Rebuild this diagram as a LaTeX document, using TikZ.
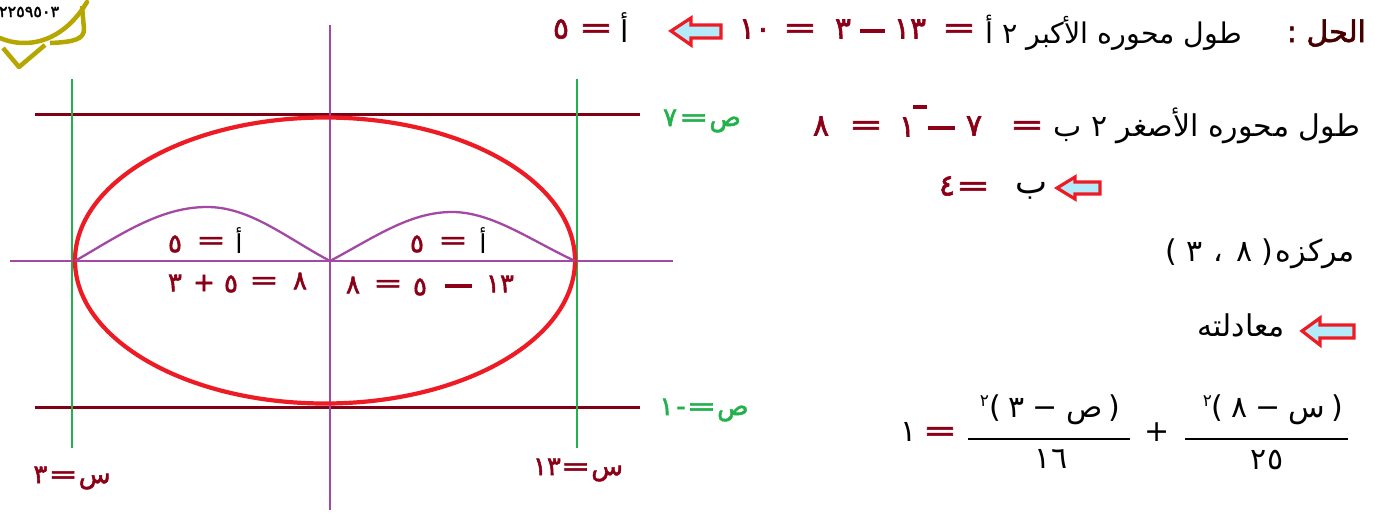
\documentclass[tikz,border=0pt]{standalone}
\usepackage{fontspec}
\newfontfamily\ar[Script=Arabic]{DejaVu Sans}
\newfontfamily\arb[Script=Arabic,FakeBold=2]{DejaVu Sans}
\newfontfamily\dv{DejaVu Sans}
\newfontfamily\dvb[FakeBold=2]{DejaVu Sans}
\TeXXeTstate=1
\newcommand\EQ{\scalebox{1.35}[1]{\dvb=}}
\definecolor{dred}{RGB}{139,0,22}
\definecolor{lred}{RGB}{128,0,20}
\definecolor{grn}{RGB}{34,177,76}
\definecolor{ered}{RGB}{237,28,36}
\definecolor{pur}{RGB}{163,73,164}
\definecolor{cyanf}{RGB}{180,235,250}
\definecolor{oliv}{RGB}{181,166,0}
\definecolor{hd}{RGB}{70,0,0}
\tikzset{
  hline/.style={lred, line width=3pt},
  vgreen/.style={grn, line width=2.8pt},
  axis/.style={pur, line width=2.3pt},
  bump/.style={pur, line width=2.3pt},
  blockarrow/.style={draw=ered, fill=cyanf, line width=3.2pt, line join=miter},
  txt/.style={font=\ar\fontsize{30}{34}\selectfont, text=black},
  rd/.style={font=\arb\fontsize{30}{34}\selectfont, text=dred},
  lab/.style={font=\arb\fontsize{26}{30}\selectfont, text=dred},
  glab/.style={font=\arb\fontsize{26}{30}\selectfont, text=grn},
  fracbar/.style={black, line width=2.2pt},
}
\begin{document}
\begin{tikzpicture}[x=1pt,y=-1pt, every node/.style={inner sep=0pt, outer sep=0pt}]
\useasboundingbox (0,0) rectangle (1375,517);
% logo
\draw[oliv, line width=4.5pt, line cap=round, line join=round] (0,38) .. controls (25,49) and (62,44) .. (87,2);
\draw[oliv, line width=4.5pt, line join=round] (3,48) -- (19,67) -- (45,45);
\draw[oliv, line width=4.5pt, line join=round] (82,6) -- (84,29) .. controls (84,39) and (75,42) .. (50,43);
\node[font=\arb\fontsize{16}{17}\selectfont, anchor=west] (tel) at (-1,12) {٢٢٥٩٥٠٣};
% grid lines
\draw[hline] (35,114) -- (640,114);
\draw[hline] (35,407) -- (640,407);
\draw[vgreen] (72,79) -- (72,448);
\draw[vgreen] (577,79) -- (577,448);
\draw[axis] (330,25) -- (330,510);
\draw[axis] (10,261) -- (673,261);
% ellipse
\draw[ered, line width=4.2pt] (325,260.5) ellipse [x radius=250, y radius=143];
% bumps
\draw[bump] (75,261) .. controls (120,235) and (160,207) .. (207,207) .. controls (250,207) and (285,237) .. (330,261);
\draw[bump] (330,261) .. controls (375,237) and (410,212) .. (452,212) .. controls (492,212) and (530,240) .. (575,261);
% diagram labels: upper
\node[lab] (l5) at (175,244) {٥};
\node[lab] (leq) at (211,243) {\EQ};
\node[font=\ar\fontsize{26}{30}\selectfont] (la) at (239,241) {أ};
\node[lab] (r5) at (417,244) {٥};
\node[lab] (req) at (453,243) {\EQ};
\node[font=\ar\fontsize{26}{30}\selectfont] (ra) at (483,241) {أ};
% diagram labels: lower
\node[lab] (l3) at (175,283) {٣};
\node[lab] (lplus) at (204,283) {\dvb+};
\node[lab] (l5b) at (231,284) {٥};
\node[lab] (leq2) at (264,283) {\EQ};
\node[lab] (l8) at (300,281) {٨};
\node[lab] (r8) at (353,285) {٨};
\node[lab] (req2) at (388,286) {\EQ};
\node[lab] (r5b) at (420,287) {٥};
\node[lab] (rdash) at (458,286) {\rule{27pt}{3.4pt}};
\node[lab] (r13) at (500,284) {١٣};
% line labels
\node[glab] (y7) at (702,121) {٧\hspace{2pt}\EQ\hspace{1pt}ص};
\node[glab] (ym1) at (704,410) {١\hspace{3pt}{\dvb-}\hspace{1pt}\EQ\hspace{1pt}ص};
\node[lab] (x3) at (72,478) {٣\hspace{1pt}\EQ\hspace{1pt}س};
\node[lab] (x13) at (578,470) {١٣\EQ\hspace{1pt}س};
% right side text, line 1
\node[font=\arb\fontsize{30}{34}\selectfont, text=hd, anchor=east] (hal) at (1366,33) {\beginR الحل :\endR};
\node[txt, font=\ar\fontsize{28.5}{34}\selectfont, anchor=east] (t1) at (1242,33) {\beginR طول محوره الأكبر ٢ أ\endR};
\node[rd] (e1) at (959,31) {\EQ};
\node[rd] (n13) at (910,29) {١٣};
\node[rd] (dsh) at (872,31) {\rule{25pt}{3.6pt}};
\node[rd] (n3) at (843,29) {٣};
\node[rd] (e2) at (800,31) {\EQ};
\node[rd] (n10) at (755,29) {١٠};
\draw[blockarrow] (671,31) -- (691,18) -- (691,25) -- (721,25) -- (721,38) -- (691,38) -- (691,45) -- cycle;
\node[txt] (aa) at (625,28) {أ};
\node[rd] (e3) at (596,31) {\EQ};
\node[rd] (a5) at (561,29) {٥};
% line 2
\node[txt, anchor=east] (t2) at (1360,126) {\beginR طول محوره الأصغر ٢ ب\endR};
\node[rd] (e4) at (1027,128) {\EQ};
\node[rd] (n7) at (974,126) {٧};
\node[rd] (dsh2) at (941,128) {\rule{27pt}{3.6pt}};
\node[rd] (n1) at (907,127) {١};
\node[rd] (neg) at (920,107) {\rule{14pt}{3.2pt}};
\node[rd] (e5) at (866,128) {\EQ};
\node[rd] (n8) at (821,126) {٨};
% line 3
\draw[blockarrow] (1057,188) -- (1075,177) -- (1075,182) -- (1100,182) -- (1100,194) -- (1075,194) -- (1075,199) -- cycle;
\node[txt, font=\ar\fontsize{34}{38}\selectfont, anchor=east] (b) at (1047,191) {ب};
\node[rd] (e6) at (973,189) {\EQ};
\node[rd] (b4) at (947,186) {٤};
% line 4
\node[txt, anchor=east] (c) at (1355,254) {{\dv(}\hspace{9pt}٣\hspace{11pt}،\hspace{13pt}٨\hspace{9pt}{\dv)}\hspace{3pt}مركزه};
% line 5
\draw[blockarrow] (1302,331) -- (1320,318) -- (1320,325) -- (1354,325) -- (1354,338) -- (1320,338) -- (1320,345) -- cycle;
\node[txt, anchor=east] (eq) at (1285,325) {معادلته};
% fractions
\node[txt] (nu1) at (1273,410) {\raisebox{11pt}{\fontsize{17}{17}\selectfont ٢}{\dv(}\hspace{8pt}٨\hspace{8pt}{\dv −}\hspace{8pt}س\hspace{6pt}{\dv)}};
\node[txt] (de1) at (1267,460) {٢٥};
\draw[fracbar] (1185,439) -- (1348,439);
\node[txt] (nu2) at (1050,410) {\raisebox{11pt}{\fontsize{17}{17}\selectfont ٢}{\dv(}\hspace{8pt}٣\hspace{8pt}{\dv −}\hspace{8pt}ص\hspace{6pt}{\dv)}};
\node[txt] (de2) at (1051,459) {١٦};
\draw[fracbar] (968,439) -- (1130,439);
\node[font=\dv\fontsize{30}{34}\selectfont] (plus) at (1157,432) {+};
\node[rd] (e7) at (940,434) {\EQ};
\node[txt] (one) at (909,432) {١};
\end{tikzpicture}
\end{document}
